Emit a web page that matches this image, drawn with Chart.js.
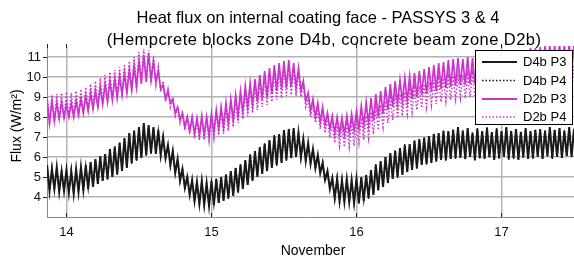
<!DOCTYPE html>
<html><head><meta charset="utf-8">
<script src="https://cdn.jsdelivr.net/npm/chart.js@4.4.1/dist/chart.umd.min.js"></script>
<style>html,body{margin:0;padding:0;background:#fff;overflow:hidden}#wrap{width:574px;height:257px;position:relative}</style>
</head><body><div id="wrap"><canvas id="c" width="574" height="257"></canvas></div>
<script>
const titleLines = ['Heat flux on internal coating face - PASSYS 3 & 4', '(Hempcrete blocks zone D4b, concrete beam zone D2b)'];
const xAxisTitle = 'November';
const yAxisTitle = 'Flux (W/m\u00B2)';
const xTickValues = [14, 15, 16, 17];
const yTickValues = [4, 5, 6, 7, 8, 9, 10, 11];
const seriesNames = ['D4b P3', 'D4b P4', 'D2b P3', 'D2b P4'];
// sampling grid: first sample (day of November) and 24-minute step (alternating highs / lows)
const sampleStart = 13.8667;
const sampleStep = 1 / 60;

const d4bP3 = [
5.6,4.3, 5.4,4.4, 5.5,4.25, 5.3,4.3, 5.35,4.2, 5.3,4.15,
5.4,4.25, 5.5,4.35, 5.6,4.4, 5.75,4.5, 5.9,4.65, 6.05,4.8,
6.15,4.9, 6.4,5.0, 6.5,5.15, 6.7,5.3, 6.95,5.45, 7.2,5.7,
7.3,5.85, 7.5,5.95, 7.7,6.1, 7.6,6.2, 7.5,6.15, 7.35,6.1,
7.0,5.95, 6.6,5.6, 6.3,5.2, 5.9,4.8, 5.4,4.45, 5.0,4.1,
4.85,3.8, 4.75,3.65, 4.8,3.6, 4.7,3.55, 4.8,3.6, 4.9,3.7,
5.0,3.8, 5.1,3.95, 5.3,4.05, 5.45,4.25, 5.6,4.4, 5.85,4.6,
6.1,4.8, 6.3,5.0, 6.5,5.15, 6.65,5.3, 6.85,5.45, 7.05,5.6,
7.15,5.7, 7.35,5.85, 7.4,5.95, 7.45,6.0, 7.2,6.0, 6.9,5.8,
6.7,5.65, 6.4,5.45, 6.1,5.2, 5.7,4.85, 5.3,4.4, 4.95,3.95,
4.9,3.8, 4.85,3.75, 4.9,3.75, 4.85,3.7, 4.9,3.7, 5.0,3.8,
5.1,3.95, 5.35,4.1, 5.6,4.35, 5.8,4.5, 6.0,4.7, 6.2,4.9,
6.3,5.0, 6.45,5.1, 6.6,5.25, 6.65,5.35, 6.8,5.45, 6.9,5.6,
6.95,5.65, 7.05,5.7, 7.15,5.8, 7.2,5.85, 7.3,5.85, 7.3,5.9,
7.35,5.95, 7.5,5.95, 7.3,5.9, 7.45,6.0, 7.2,5.85, 7.4,5.95,
7.3,5.9, 7.45,6.0, 7.25,5.85, 7.4,5.95, 7.3,6.0, 7.5,5.9,
7.3,5.95, 7.4,5.85, 7.25,6.0, 7.45,5.9, 7.3,5.95, 7.35,6.0,
7.4,5.9, 7.3,6.05, 7.5,5.95, 7.35,6.0, 7.45,5.95, 7.3,6.05,
7.5,6.0, 7.4
];
const d4bP4 = [
5.55,4.35, 5.45,4.35, 5.45,4.3, 5.35,4.25, 5.3,4.25, 5.35,4.2,
5.35,4.3, 5.55,4.3, 5.55,4.45, 5.7,4.55, 5.85,4.6, 6.0,4.8,
6.2,4.85, 6.35,5.05, 6.55,5.1, 6.75,5.3, 6.9,5.5, 7.15,5.65,
7.35,5.8, 7.45,6.0, 7.65,6.05, 7.55,6.15, 7.45,6.2, 7.3,6.05,
6.95,5.9, 6.65,5.55, 6.25,5.25, 5.85,4.85, 5.45,4.4, 5.05,4.15,
4.8,3.75, 4.8,3.6, 4.75,3.65, 4.75,3.5, 4.75,3.65, 4.95,3.7,
5.05,3.85, 5.15,3.9, 5.25,4.1, 5.5,4.2, 5.65,4.45, 5.8,4.65,
6.15,4.85, 6.25,5.05, 6.45,5.2, 6.7,5.25, 6.8,5.5, 7.1,5.55,
7.1,5.75, 7.3,5.8, 7.45,5.9, 7.4,6.05, 7.25,5.95, 6.85,5.85,
6.65,5.7, 6.45,5.4, 6.05,5.25, 5.75,4.8, 5.25,4.45, 4.9,3.9,
4.95,3.75, 4.8,3.8, 4.95,3.7, 4.8,3.75, 4.95,3.65, 4.95,3.85,
5.15,3.9, 5.3,4.15, 5.65,4.3, 5.75,4.55, 6.05,4.65, 6.15,4.95,
6.35,4.95, 6.4,5.15, 6.65,5.2, 6.6,5.4, 6.85,5.4, 6.85,5.65,
7.0,5.6, 7.0,5.75, 7.2,5.75, 7.15,5.9, 7.35,5.8, 7.25,5.95,
7.4,5.9, 7.45,6.0, 7.35,5.85, 7.4,6.05, 7.25,5.8, 7.45,5.9,
7.25,5.95, 7.5,5.95, 7.2,5.9, 7.45,5.9, 7.25,6.05, 7.45,5.85,
7.35,5.9, 7.35,5.9, 7.3,5.95, 7.4,5.95, 7.25,5.9, 7.4,6.05,
7.35,5.95, 7.35,6.0, 7.45,5.9, 7.4,6.05, 7.4,5.9, 7.35,6.0,
7.45,6.05, 7.45
];
const d2bP3 = [
8.9,7.7, 8.8,7.8, 8.7,7.9, 8.75,7.95, 8.65,8.0, 8.7,8.0,
8.8,8.1, 8.9,8.2, 9.05,8.3, 9.2,8.4, 9.3,8.5, 9.5,8.65,
9.65,8.75, 9.8,8.85, 9.9,8.95, 10.05,9.1, 10.2,9.2, 10.35,9.35,
10.55,9.5, 10.8,9.7, 11.1,9.8, 11.2,9.85, 10.8,9.75, 10.3,9.4,
9.6,8.9, 9.3,8.7, 8.9,8.2, 8.5,7.85, 8.2,7.5, 8.0,7.3,
8.0,7.15, 7.95,7.1, 8.05,7.1, 8.0,7.05, 8.15,7.2, 8.35,7.4,
8.5,7.5, 8.7,7.65, 8.9,7.85, 9.1,8.05, 9.3,8.25, 9.55,8.45,
9.7,8.6, 9.9,8.75, 10.1,8.9, 10.3,9.0, 10.45,9.15, 10.6,9.3,
10.7,9.4, 10.8,9.45, 10.85,9.5, 10.7,9.45, 10.45,9.3, 9.8,8.8,
9.2,8.3, 8.9,8.0, 8.7,7.75, 8.5,7.6, 8.2,7.4, 8.05,7.2,
8.0,7.15, 7.95,7.15, 8.05,7.2, 8.15,7.3, 8.3,7.4, 8.55,7.55,
8.75,7.65, 8.95,7.8, 9.15,8.0, 9.3,8.15, 9.5,8.35, 9.65,8.5,
9.8,8.65, 9.85,8.75, 9.95,8.8, 10.05,8.9, 10.2,9.0, 10.3,9.1,
10.4,9.15, 10.5,9.25, 10.6,9.3, 10.7,9.4, 10.75,9.45, 10.85,9.5,
10.9,9.55, 10.95,9.6, 10.9,9.6, 11.0,9.65, 10.95,9.65, 11.05,9.7,
11.05,9.7, 11.1,9.75, 11.1,9.75, 11.15,9.8, 11.2,9.8, 11.2,9.85,
11.25,9.85, 11.3,9.9, 11.3,9.9, 11.35,9.95, 11.45,9.95, 11.45,10.0,
11.5,10.0, 11.55,10.05, 11.6,10.05, 11.6,10.1, 11.7,10.1, 11.65,10.15,
11.7,10.15, 11.75
];
const d2bP4 = [
9.0,7.6, 9.1,7.75, 9.15,7.85, 9.2,7.9, 9.25,7.95, 9.2,8.0,
9.3,8.05, 9.4,8.15, 9.5,8.25, 9.65,8.35, 9.8,8.45, 9.95,8.6,
10.1,8.75, 10.25,8.85, 10.35,8.95, 10.5,9.05, 10.65,9.15, 10.8,9.3,
11.0,9.45, 11.25,9.6, 11.4,9.7, 11.35,9.7, 11.0,9.6, 10.5,9.25,
9.8,8.8, 9.4,8.5, 8.95,8.05, 8.5,7.7, 8.15,7.35, 7.95,7.15,
7.9,6.95, 7.85,6.85, 7.9,6.85, 7.85,6.8, 8.0,6.95, 8.2,7.1,
8.3,7.15, 8.5,7.3, 8.7,7.5, 8.85,7.7, 9.05,7.9, 9.25,8.05,
9.4,8.2, 9.6,8.35, 9.75,8.5, 9.95,8.6, 10.1,8.75, 10.25,8.85,
10.35,8.95, 10.5,9.05, 10.6,9.1, 10.5,9.05, 10.3,9.0, 9.6,8.5,
8.9,8.0, 8.6,7.7, 8.4,7.4, 8.2,7.2, 7.95,6.95, 7.75,6.7,
7.65,6.55, 7.6,6.5, 7.6,6.5, 7.7,6.55, 7.8,6.7, 7.95,6.85,
8.05,6.95, 8.25,7.15, 8.45,7.35, 8.6,7.5, 8.8,7.7, 8.95,7.85,
9.05,7.95, 9.15,8.05, 9.25,8.15, 9.35,8.25, 9.45,8.35, 9.55,8.45,
9.65,8.5, 9.75,8.6, 9.85,8.65, 9.9,8.75, 9.95,8.8, 10.0,8.85,
10.05,8.9, 10.05,8.95, 10.1,8.95, 10.1,9.0, 10.15,9.0, 10.2,9.05,
10.2,9.05, 10.25,9.1, 10.25,9.1, 10.3,9.1, 10.3,9.15, 10.35,9.15,
10.35,9.2, 10.4,9.2, 10.4,9.2, 10.45,9.25, 10.45,9.25, 10.5,9.25,
10.5,9.3, 10.55,9.3, 10.55,9.3, 10.6,9.35, 10.6,9.35, 10.6,9.35,
10.65,9.35, 10.65
];

const seriesValues = [d4bP3, d4bP4, d2bP3, d2bP4];
const seriesColors = ['#1a1a1a', '#1a1a1a', '#cc33cc', '#cc33cc'];
const seriesDash = [[], [1.5, 2], [], [1.5, 2]];
const seriesWidth = [2, 1.5, 1.7, 1.5];
const FONT = '"Liberation Sans", Arial, Helvetica, sans-serif';

function toPoints(vals) {
  return vals.map((v, i) => ({ x: sampleStart + i * sampleStep, y: v }));
}

const decor = {
  id: 'decor',
  afterDraw(chart) {
    const ctx = chart.ctx;
    const ca = chart.chartArea;
    const xs = chart.scales.x, ys = chart.scales.y;
    ctx.save();
    // tick marks
    ctx.strokeStyle = '#222';
    ctx.lineWidth = 1;
    xTickValues.forEach(v => {
      const px = Math.round(xs.getPixelForValue(v)) + 0.5;
      ctx.beginPath(); ctx.moveTo(px, ca.bottom); ctx.lineTo(px, ca.bottom - 4); ctx.stroke();
      ctx.beginPath(); ctx.moveTo(px, ca.top - 2); ctx.lineTo(px, ca.top + 2); ctx.stroke();
    });
    ctx.beginPath(); ctx.moveTo(ca.left + 0.5, ca.top - 2); ctx.lineTo(ca.left + 0.5, ca.top + 2); ctx.stroke();
    yTickValues.forEach(v => {
      const py = Math.round(ys.getPixelForValue(v)) + 0.5;
      ctx.beginPath(); ctx.moveTo(ca.left - 4, py); ctx.lineTo(ca.left, py); ctx.stroke();
    });
    // title
    ctx.fillStyle = '#000';
    ctx.textAlign = 'center';
    ctx.textBaseline = 'alphabetic';
    ctx.font = '16.5px ' + FONT;
    ctx.fillText(titleLines[0], 318, 23);
    ctx.letterSpacing = '0.45px';
    ctx.fillText(titleLines[1], 324, 45);
    ctx.letterSpacing = '0px';
    // axis titles
    ctx.font = '14px ' + FONT;
    ctx.fillText(xAxisTitle, 313, 255);
    ctx.save();
    ctx.translate(21, 126);
    ctx.rotate(-Math.PI / 2);
    ctx.font = '14px ' + FONT;
    ctx.fillText(yAxisTitle, 0, 0);
    ctx.restore();
    // legend
    const lx = 475, ly = 50, lw = 98, lh = 75;
    ctx.fillStyle = '#fff';
    ctx.fillRect(lx, ly, lw, lh);
    ctx.strokeStyle = '#000';
    ctx.lineWidth = 1;
    ctx.strokeRect(lx + 0.5, ly + 0.5, lw - 1, lh - 1);
    ctx.font = '13px ' + FONT;
    ctx.textAlign = 'left';
    ctx.textBaseline = 'middle';
    const rows = [62, 80.5, 99, 117];
    seriesNames.forEach((n, i) => {
      ctx.strokeStyle = seriesColors[i];
      ctx.lineWidth = i % 2 === 0 ? 2 : 1.5;
      ctx.setLineDash(seriesDash[i]);
      ctx.beginPath(); ctx.moveTo(482, rows[i]); ctx.lineTo(517, rows[i]); ctx.stroke();
      ctx.setLineDash([]);
      ctx.fillStyle = '#000';
      ctx.fillText(n, 523, rows[i] + 0.5);
    });
    ctx.restore();
  }
};

new Chart(document.getElementById('c'), {
  type: 'line',
  data: {
    datasets: seriesNames.map((n, i) => ({
      label: n,
      data: toPoints(seriesValues[i]),
      borderColor: seriesColors[i],
      borderWidth: seriesWidth[i],
      borderDash: seriesDash[i],
      pointRadius: 0,
      tension: 0,
      fill: false,
      clip: 0,
      order: 4 - i
    }))
  },
  options: {
    responsive: false,
    animation: false,
    devicePixelRatio: 1,
    layout: { padding: { top: 46, left: 0, right: 0, bottom: 0 } },
    plugins: { legend: { display: false }, title: { display: false }, tooltip: { enabled: false } },
    scales: {
      x: {
        type: 'linear', min: 13.866, max: 17.5,
        afterBuildTicks: s => { s.ticks = xTickValues.map(v => ({ value: v })); },
        afterFit: s => { s.height = 40; },
        grid: { color: '#b4b4b4', lineWidth: 1.5, drawTicks: false },
        border: { display: true, color: '#8a8a8a', width: 1 },
        ticks: { color: '#111', font: { family: FONT, size: 13 }, padding: 8, maxRotation: 0, callback: v => String(v) }
      },
      y: {
        type: 'linear', min: 3, max: 11.55,
        afterBuildTicks: s => { s.ticks = yTickValues.map(v => ({ value: v })); },
        afterFit: s => { s.width = 47; },
        grid: { color: '#b4b4b4', lineWidth: 1.5, drawTicks: false },
        border: { display: true, color: '#8a8a8a', width: 1 },
        ticks: { color: '#111', font: { family: FONT, size: 13 }, padding: 6, callback: v => String(v) }
      }
    }
  },
  plugins: [decor]
});
</script></body></html>
